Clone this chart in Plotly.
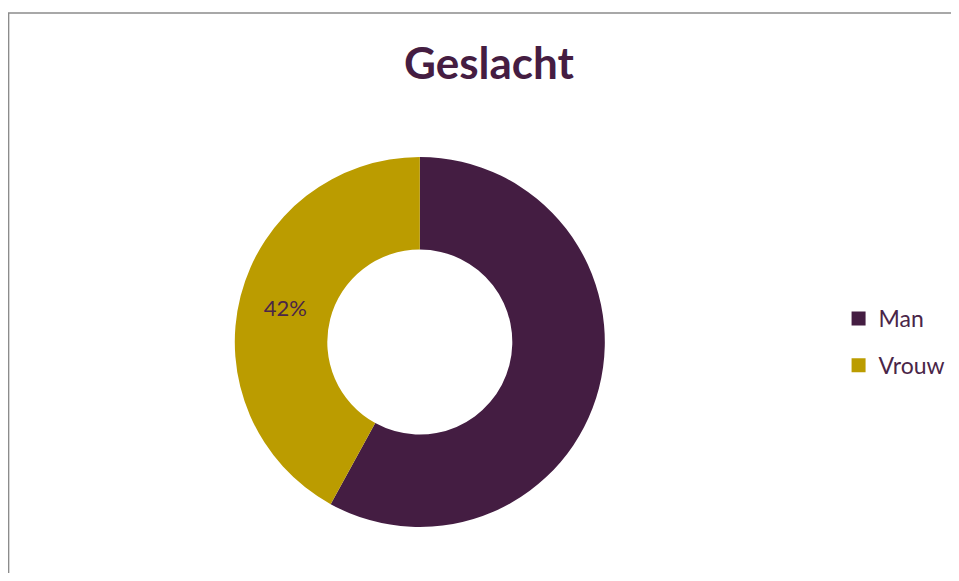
import plotly.graph_objects as go

labels = ["Man", "Vrouw"]
values = [58, 42]
colors = ["#441D42", "#BB9C00"]
text_templates = ["", "%{percent:.0%}"]

# page body has an 8px margin; size the figure so the page fits the window
OFF = 8
W, H = 959 - 2 * OFF, 581 - 2 * OFF
cx, cy, R = 422 - OFF, 342 - OFF, 186
FONT = "Lato, Carlito, sans-serif"

fig = go.Figure(go.Pie(
    labels=labels,
    values=values,
    hole=0.5,
    sort=False,
    direction="clockwise",
    rotation=0,
    marker=dict(colors=colors, line=dict(width=0)),
    texttemplate=text_templates,
    textposition="inside",
    insidetextorientation="horizontal",
    textfont=dict(family=FONT, size=22, color="#4A2548"),
    hoverinfo="label+percent",
    showlegend=False,
    domain=dict(x=[(cx - R) / W, (cx + R) / W], y=[1 - (cy + R) / H, 1 - (cy - R) / H]),
))

# legend entries (no visible marks) so the legend spacing can be controlled
for lab, col in zip(labels, colors):
    fig.add_trace(go.Scatter(
        x=[None], y=[None], mode="markers", name=lab, legendgroup=lab,
        marker=dict(symbol="square", size=14, color=col), showlegend=True,
    ))

fig.update_layout(
    width=W, height=H,
    margin=dict(l=0, r=0, t=0, b=0),
    paper_bgcolor="white",
    plot_bgcolor="white",
    xaxis=dict(visible=False),
    yaxis=dict(visible=False),
    title=dict(text="<b>Geslacht</b>", x=(489 - OFF) / W, xanchor="center",
               y=1 - (64 - OFF) / H, yanchor="middle",
               font=dict(family=FONT, size=44, color="#451D42")),
    legend=dict(x=(843 - OFF) / W, y=1 - (342 - OFF) / H, xanchor="left", yanchor="middle",
                font=dict(family=FONT, size=23, color="#4A2548"),
                traceorder="grouped", tracegroupgap=14,
                itemsizing="trace", bgcolor="rgba(0,0,0,0)"),
    shapes=[dict(type="rect", xref="paper", yref="paper", x0=0.6 / W, x1=1.05, y0=-0.05,
                 y1=1 - (13 - OFF) / H,
                 line=dict(color="#8C8C8C", width=1.5), fillcolor="rgba(0,0,0,0)", layer="below")],
)

fig.write_html("out.html")
